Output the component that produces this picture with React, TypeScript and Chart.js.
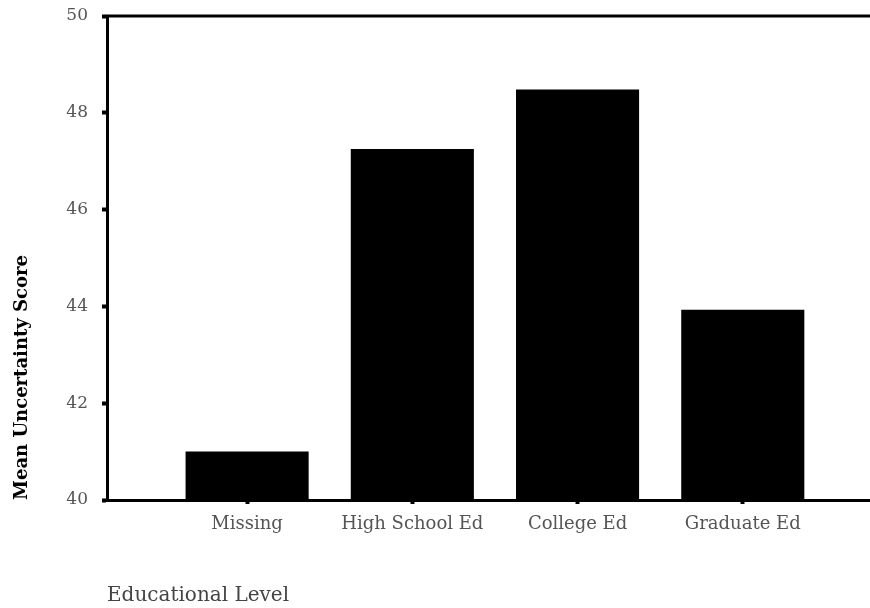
import React, { useEffect, useRef } from "react";
import { Chart, registerables } from "chart.js";

Chart.register(...registerables);

const categories = ["Missing", "High School Ed", "College Ed", "Graduate Ed"];
const meanScores = [41.0, 47.25, 48.48, 43.93];
const yTicks = [40, 42, 44, 46, 48, 50];
const yTitle = "Mean Uncertainty Score";
const xTitle = "Educational Level";

const topLinePlugin = {
  id: "topLine",
  afterDraw(chart: any) {
    const { ctx, chartArea } = chart;
    ctx.save();
    ctx.strokeStyle = "#000";
    ctx.lineWidth = 3;
    ctx.beginPath();
    ctx.moveTo(chartArea.left - 1.5, chartArea.top);
    ctx.lineTo(chartArea.right, chartArea.top);
    ctx.stroke();
    ctx.restore();
  },
};

export default function App() {
  const ref = useRef<HTMLCanvasElement | null>(null);

  useEffect(() => {
    document.body.style.margin = "0";
    const canvas = ref.current;
    if (!canvas) return;
    const chart = new Chart(canvas, {
      type: "bar",
      data: {
        datasets: [
          {
            label: yTitle,
            data: meanScores.map((v, i) => ({ x: i + 1, y: v })),
            backgroundColor: "#000",
            borderWidth: 0,
            categoryPercentage: 1,
            barPercentage: 0.745,
          },
        ],
      },
      options: {
        animation: false,
        responsive: true,
        maintainAspectRatio: false,
        layout: { padding: { top: 16, left: 0, right: 0, bottom: 0 } },
        plugins: {
          legend: { display: false },
          tooltip: { enabled: false },
        },
        scales: {
          x: {
            type: "linear",
            offset: false,
            min: 0.152,
            max: 4.77,
            afterBuildTicks: (scale: any) => {
              scale.ticks = categories.map((_, i) => ({ value: i + 1 }));
            },
            afterFit: (scale: any) => {
              scale.height = 108;
              scale.paddingLeft = 0;
              scale.paddingRight = 0;
            },
            ticks: {
              autoSkip: false,
              maxRotation: 0,
              padding: 10,
              color: "#555",
              font: { family: "DejaVu Serif", size: 18 },
              callback: (value: any) => categories[Math.round(Number(value)) - 1] ?? "",
            },
            grid: {
              offset: false,
              drawOnChartArea: false,
              drawTicks: true,
              tickLength: 4,
              tickWidth: 4,
              color: "#000",
            },
            border: { display: true, color: "#000", width: 3 },
            title: {
              display: true,
              text: xTitle,
              align: "start",
              color: "#444",
              font: { family: "DejaVu Serif", size: 20 },
              padding: { top: 0, bottom: 0 },
            },
          },
          y: {
            type: "linear",
            min: 40,
            max: 50,
            afterBuildTicks: (scale: any) => {
              scale.ticks = yTicks.map((v) => ({ value: v }));
            },
            afterFit: (scale: any) => {
              scale.width = 107;
              scale.paddingTop = 0;
              scale.paddingBottom = 0;
            },
            ticks: {
              padding: 14,
              color: "#555",
              font: { family: "DejaVu Serif", size: 17 },
            },
            grid: {
              drawOnChartArea: false,
              drawTicks: true,
              tickLength: 5,
              tickWidth: 4,
              color: "#000",
            },
            border: { display: true, color: "#000", width: 3 },
            title: {
              display: true,
              text: yTitle,
              align: "start",
              color: "#000",
              font: { family: "DejaVu Serif", size: 18, weight: "bold" },
              padding: { top: 12, bottom: 0 },
            },
          },
        },
      },
      plugins: [topLinePlugin],
    } as any);
    return () => chart.destroy();
  }, []);

  return (
    <div style={{ width: 870, height: 608, position: "relative" }}>
      <canvas ref={ref} />
    </div>
  );
}
